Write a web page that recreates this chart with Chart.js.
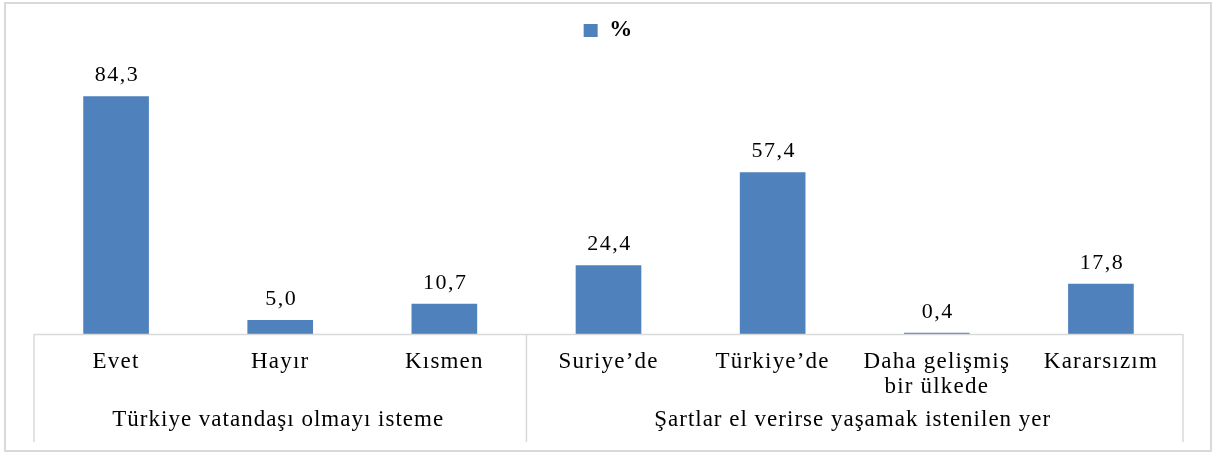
<!DOCTYPE html>
<html>
<head>
<meta charset="utf-8">
<script src="https://cdn.jsdelivr.net/npm/chart.js@4.4.0/dist/chart.umd.min.js"></script>
<style>
  html, body { margin: 0; padding: 0; background: #fff; }
  #wrap { position: relative; width: 1224px; height: 455px; }
  #frame { position: absolute; left: 4px; top: 2px; width: 1204px; height: 446px; border: 2px solid #d9d9d9; pointer-events: none; }
</style>
</head>
<body>
<div id="wrap">
  <canvas id="c" width="1224" height="455"></canvas>
  <div id="frame"></div>
</div>
<script>
// ---- data ----
const categories = ['Evet', 'Hayır', 'Kısmen', 'Suriye\u2019de', 'Türkiye\u2019de', ['Daha gelişmiş', 'bir ülkede'], 'Kararsızım'];
const seriesName = '%';
const percentValues = [84.3, 5.0, 10.7, 24.4, 57.4, 0.4, 17.8];
const groupLabels = ['Türkiye vatandaşı olmayı isteme', 'Şartlar el verirse yaşamak istenilen yer'];
const groupSizes = [3, 4];

const SERIF = '"Liberation Serif", "Times New Roman", serif';
const LINE = '#d9d9d9';
const SPACING = '1.2px';

const spacingPlugin = {
  id: 'spacing',
  beforeInit(chart) { chart.ctx.letterSpacing = SPACING; },
  beforeLayout(chart) { chart.ctx.letterSpacing = SPACING; },
  beforeDraw(chart) { chart.ctx.letterSpacing = SPACING; }
};

const decorPlugin = {
  id: 'decor',
  afterDraw(chart) {
    const ctx = chart.ctx;
    const x = chart.scales.x;
    const area = chart.chartArea;
    const half = (x.getPixelForValue(1) - x.getPixelForValue(0)) / 2;
    const yAxis = area.bottom;
    const yEnd = yAxis + 108;
    const bounds = [x.getPixelForValue(0) - half];
    let idx = 0;
    groupSizes.forEach(n => { idx += n; bounds.push(x.getPixelForValue(idx - 1) + half); });
    ctx.save();
    ctx.strokeStyle = LINE;
    ctx.lineWidth = 1.5;
    ctx.beginPath();
    ctx.moveTo(bounds[0], yAxis + 0.5);
    ctx.lineTo(bounds[bounds.length - 1], yAxis + 0.5);
    bounds.forEach(b => { ctx.moveTo(b, yAxis); ctx.lineTo(b, yEnd); });
    ctx.stroke();
    // group labels
    ctx.letterSpacing = '1px';
    ctx.fillStyle = '#000';
    ctx.font = '23px ' + SERIF;
    ctx.textAlign = 'center';
    ctx.textBaseline = 'alphabetic';
    groupLabels.forEach((g, i) => {
      ctx.fillText(g, (bounds[i] + bounds[i + 1]) / 2 - 2, yAxis + 92);
    });
    // value labels
    ctx.letterSpacing = '1.5px';
    ctx.font = '22px ' + SERIF;
    const meta = chart.getDatasetMeta(0);
    meta.data.forEach((bar, i) => {
      const v = percentValues[i];
      ctx.fillText(v.toFixed(1).replace('.', ','), bar.x + 1, bar.y - 15);
    });
    ctx.restore();
  }
};

new Chart(document.getElementById('c'), {
  type: 'bar',
  data: {
    labels: categories,
    datasets: [{
      label: seriesName,
      data: percentValues,
      backgroundColor: '#4F81BD',
      borderWidth: 0,
      categoryPercentage: 1.0,
      barPercentage: 0.4
    }]
  },
  options: {
    responsive: false,
    animation: false,
    devicePixelRatio: 1,
    layout: { padding: { left: 34, right: 41, top: 9, bottom: 0 } },
    plugins: {
      tooltip: { enabled: false },
      legend: {
        display: true,
        position: 'top',
        labels: {
          boxWidth: 14,
          boxHeight: 13,
          padding: 10,
          color: '#000',
          font: { family: SERIF, size: 23, weight: 'bold' }
        }
      }
    },
    scales: {
      x: {
        grid: { display: false, drawTicks: false },
        border: { display: false },
        ticks: {
          color: '#000',
          padding: 15,
          maxRotation: 0,
          autoSkip: false,
          font: { family: SERIF, size: 23, lineHeight: 1.1 }
        },
        afterFit(scale) { scale.height = 121; }
      },
      y: {
        display: false,
        min: 0,
        max: 100
      }
    }
  },
  plugins: [spacingPlugin, decorPlugin]
});
</script>
</body>
</html>
